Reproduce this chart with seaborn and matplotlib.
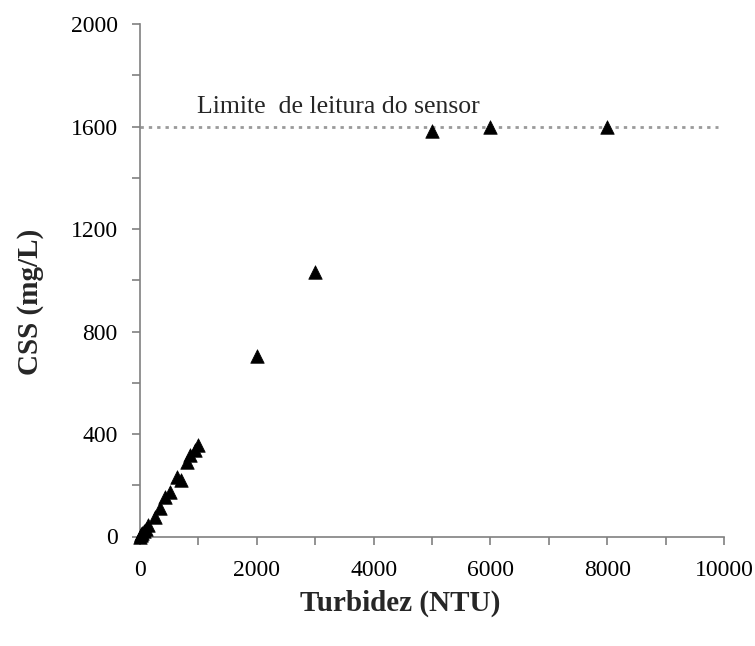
import matplotlib
matplotlib.use("Agg")
import matplotlib.pyplot as plt
import seaborn as sns
import pandas as pd
from matplotlib.ticker import MultipleLocator

# Calibração: turbidez medida vs. concentração de sólidos em suspensão
turbidez = [0, 10, 20, 40, 60, 100, 140, 250, 340, 430, 510, 630, 710,
            800, 850, 940, 1000, 2000, 3000, 5000, 6000, 8000]
css = [0, 4, 8, 15, 22, 30, 45, 77, 110, 155, 175, 233, 222,
       292, 318, 338, 358, 704, 1032, 1582, 1600, 1600]

limite_x = [0, 9900]
limite_y = [1600, 1600]
limite_texto = "Limite  de leitura do sensor"

x_ticks = [0, 2000, 4000, 6000, 8000, 10000]
y_ticks = [0, 400, 800, 1200, 1600, 2000]

sns.set_style("white")
plt.rcParams["font.family"] = ["Liberation Serif", "DejaVu Serif"]

df = pd.DataFrame({"Turbidez": turbidez, "CSS": css})
df_lim = pd.DataFrame({"x": limite_x, "y": limite_y})

W, H = 755, 646
x0, x1, y0, y1 = 140, 724, 536.5, 24
fig = plt.figure(figsize=(W / 100, H / 100), dpi=100)
ax = fig.add_axes([x0 / W, 1 - y0 / H, (x1 - x0) / W, (y0 - y1) / H])

sns.lineplot(data=df_lim, x="x", y="y", ax=ax, color="#9a9a9a",
             linestyle=(0, (1.2, 1.8)), linewidth=2.0, zorder=1)
sns.scatterplot(data=df, x="Turbidez", y="CSS", ax=ax, marker="^",
                color="black", s=95, edgecolor="black", linewidth=0.5,
                zorder=3, clip_on=False)

ax.text(980, 1653, limite_texto, fontsize=18.5, ha="left", va="baseline")

ax.set_xlim(0, 10000)
ax.set_ylim(0, 2000)
ax.set_xticks(x_ticks)
ax.set_yticks(y_ticks)
ax.xaxis.set_minor_locator(MultipleLocator(1000))
ax.yaxis.set_minor_locator(MultipleLocator(200))

for side in ("top", "right"):
    ax.spines[side].set_visible(False)
for side in ("left", "bottom"):
    ax.spines[side].set_color("#808080")
    ax.spines[side].set_linewidth(1.2)

ax.tick_params(axis="both", which="both", direction="out", color="#808080",
               width=1.2, labelsize=17, labelcolor="black",
               bottom=True, left=True, top=False, right=False)
ax.tick_params(axis="both", which="both", length=6)
ax.tick_params(axis="y", which="major", pad=10)
ax.tick_params(axis="x", which="major", pad=11)

ax.set_xlabel("Turbidez (NTU)", fontsize=21, fontweight="bold")
ax.set_ylabel("CSS (mg/L)", fontsize=21, fontweight="bold")
ax.xaxis.set_label_coords(0.445, -0.13)
ax.yaxis.set_label_coords(-0.187, 0.4576)
ax.xaxis.label.set_va("center")
ax.yaxis.label.set_va("center")

fig.savefig("out.png", dpi=100)
